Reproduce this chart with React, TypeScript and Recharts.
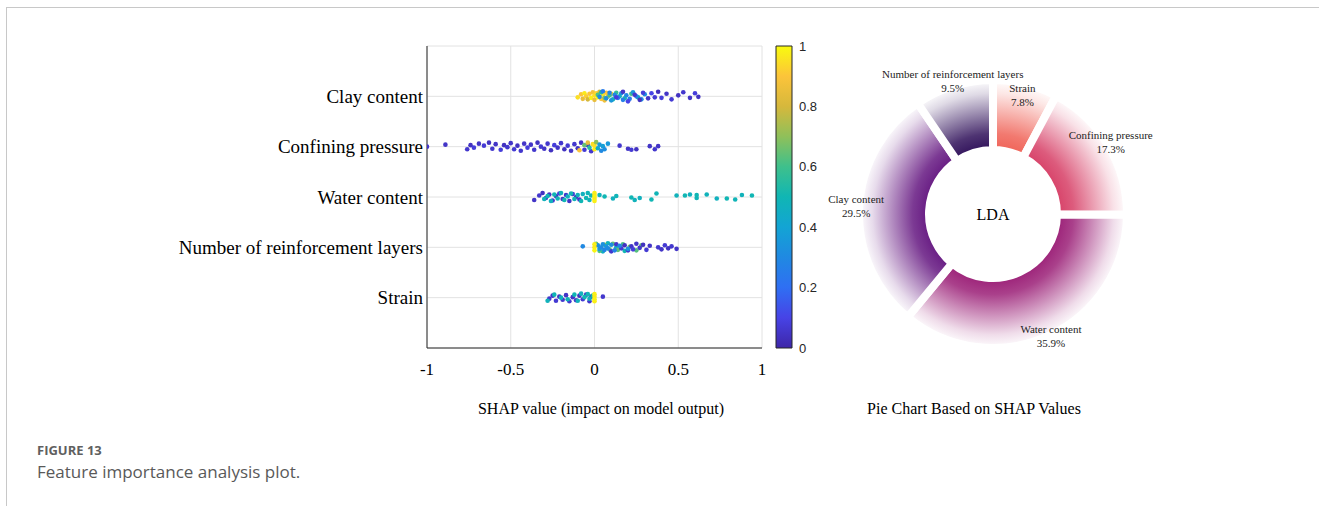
import { Bar, BarChart, CartesianGrid, Cell, Label, Pie, PieChart, Scatter, ScatterChart, XAxis, YAxis } from 'recharts';

const SERIF = '"Liberation Serif", "Times New Roman", serif';
const SANS = '"Liberation Sans", Arial, sans-serif';

// bottom to top: row number = index + 1
const features = ['Strain', 'Number of reinforcement layers', 'Water content', 'Confining pressure', 'Clay content'];
const xTicks = [-1, -0.5, 0, 0.5, 1];
const rowTicks = [1, 2, 3, 4, 5];
const colorTicks = [0, 0.2, 0.4, 0.6, 0.8, 1];

// [shap value, vertical jitter (rows), normalised feature value]
const clayPts = [
  [-0.1, -0.02, 0.95], [-0.08, 0.04, 0.9], [-0.07, -0.05, 0.85], [-0.06, 0.06, 0.97], [-0.05, 0.0, 0.92], [-0.04, -0.06, 0.8],
  [-0.03, 0.05, 0.9], [-0.02, -0.03, 0.98], [-0.01, 0.08, 0.88], [0.0, 0.02, 0.95], [0.0, -0.07, 0.85], [0.01, 0.06, 0.93],
  [0.02, -0.02, 0.99], [0.03, 0.09, 0.82], [0.04, -0.05, 0.9], [0.05, 0.04, 0.96], [0.06, -0.08, 0.87], [0.07, 0.07, 0.9],
  [0.08, 0.0, 0.85], [0.1, 0.05, 0.92],
  [0.02, 0.03, 0.62], [0.04, 0.08, 0.55], [0.06, -0.03, 0.68], [0.09, 0.02, 0.6], [0.11, -0.06, 0.5], [0.13, 0.07, 0.58],
  [0.15, 0.0, 0.48], [0.18, -0.04, 0.52], [0.22, 0.05, 0.6], [0.26, -0.02, 0.5],
  [0.03, -0.01, 0.3], [0.05, 0.1, 0.25], [0.07, -0.04, 0.33], [0.09, 0.07, 0.28], [0.1, -0.08, 0.35], [0.12, 0.03, 0.3],
  [0.14, -0.03, 0.22], [0.16, 0.06, 0.32], [0.17, -0.07, 0.27], [0.19, 0.02, 0.3], [0.21, -0.05, 0.25], [0.23, 0.08, 0.35],
  [0.25, 0.0, 0.28], [0.28, -0.06, 0.3], [0.3, 0.04, 0.32],
  [0.13, -0.02, 0.08], [0.17, 0.09, 0.05], [0.2, -0.1, 0.1], [0.24, 0.03, 0.06], [0.27, -0.07, 0.04], [0.29, 0.07, 0.08],
  [0.32, -0.04, 0.05], [0.34, 0.06, 0.1], [0.36, -0.02, 0.07], [0.38, 0.09, 0.03], [0.4, -0.03, 0.08], [0.43, 0.05, 0.05],
  [0.46, -0.06, 0.07], [0.5, 0.02, 0.04], [0.53, 0.08, 0.06], [0.57, -0.03, 0.05], [0.6, 0.06, 0.08], [0.62, -0.01, 0.04],
];

const confiningPts = [
  [-1.0, 0.0, 0.05], [-0.89, 0.04, 0.05], [-0.76, -0.05, 0.06], [-0.74, 0.03, 0.04], [-0.72, -0.02, 0.08], [-0.69, 0.06, 0.05],
  [-0.66, 0.02, 0.07], [-0.63, 0.08, 0.04], [-0.61, -0.04, 0.06], [-0.59, 0.05, 0.05], [-0.56, -0.06, 0.08], [-0.54, 0.03, 0.04],
  [-0.52, -0.01, 0.06], [-0.5, 0.07, 0.05], [-0.48, -0.05, 0.07], [-0.46, 0.02, 0.04], [-0.44, -0.08, 0.06], [-0.42, 0.06, 0.05],
  [-0.4, -0.02, 0.08], [-0.38, 0.04, 0.05], [-0.36, -0.06, 0.06], [-0.34, 0.08, 0.04], [-0.32, 0.0, 0.07], [-0.3, -0.04, 0.05],
  [-0.28, 0.06, 0.06], [-0.26, -0.07, 0.04], [-0.24, 0.03, 0.08], [-0.22, -0.02, 0.05], [-0.2, 0.07, 0.06], [-0.18, -0.05, 0.04],
  [-0.16, 0.02, 0.07], [-0.14, -0.08, 0.05], [-0.12, 0.05, 0.06], [-0.1, -0.03, 0.04], [-0.08, 0.08, 0.05], [-0.06, -0.06, 0.07],
  [-0.04, 0.03, 0.05], [-0.02, -0.09, 0.06],
  [0.15, 0.02, 0.06], [0.2, -0.04, 0.05], [0.22, -0.06, 0.07], [0.25, -0.05, 0.04], [0.33, 0.01, 0.05], [0.36, -0.05, 0.06], [0.38, 0.01, 0.05],
  [-0.09, -0.07, 0.9], [-0.06, 0.03, 0.65], [-0.04, 0.08, 0.85], [-0.03, -0.02, 0.55], [-0.01, 0.05, 0.95], [0.0, -0.05, 0.98],
  [0.0, 0.02, 0.95], [0.01, 0.09, 0.7], [0.02, -0.03, 0.45], [0.03, 0.04, 0.35], [0.04, -0.08, 0.3], [0.05, 0.01, 0.38],
  [0.06, -0.05, 0.32], [0.08, 0.06, 0.36],
];

const waterPts = [
  [-0.36, -0.06, 0.05], [-0.33, 0.03, 0.06], [-0.31, 0.08, 0.04], [-0.29, -0.02, 0.07], [-0.27, 0.05, 0.05], [-0.25, -0.07, 0.06],
  [-0.23, 0.02, 0.04], [-0.21, 0.07, 0.08], [-0.19, -0.04, 0.05], [-0.17, 0.04, 0.06], [-0.15, -0.08, 0.05], [-0.13, 0.06, 0.07],
  [-0.11, 0.0, 0.04], [-0.09, -0.05, 0.06],
  [-0.3, -0.04, 0.48], [-0.28, 0.02, 0.5], [-0.26, -0.08, 0.47], [-0.24, 0.05, 0.5], [-0.22, -0.03, 0.49], [-0.2, 0.08, 0.48],
  [-0.18, -0.06, 0.5], [-0.16, 0.01, 0.47], [-0.14, 0.07, 0.5], [-0.12, -0.04, 0.49], [-0.1, 0.04, 0.48], [-0.08, -0.08, 0.5],
  [-0.07, 0.06, 0.47], [-0.05, -0.02, 0.5], [-0.04, 0.08, 0.49], [-0.03, -0.06, 0.48], [-0.02, 0.03, 0.5],
  [0.03, 0.04, 0.48], [0.06, 0.01, 0.5], [0.11, -0.03, 0.47], [0.13, 0.02, 0.49], [0.22, -0.01, 0.5], [0.24, -0.06, 0.48],
  [0.27, -0.02, 0.47], [0.34, -0.05, 0.5], [0.37, 0.07, 0.49], [0.49, 0.03, 0.48], [0.54, 0.03, 0.5], [0.57, 0.05, 0.47],
  [0.61, -0.02, 0.49], [0.61, 0.04, 0.5], [0.67, 0.05, 0.48], [0.73, -0.03, 0.47], [0.79, -0.03, 0.5], [0.84, -0.05, 0.49],
  [0.88, 0.04, 0.48], [0.94, 0.03, 0.5],
  [0.0, 0.08, 0.98], [0.0, 0.04, 0.97], [0.0, 0.0, 0.99], [0.0, -0.04, 0.97], [0.0, -0.08, 0.98],
];

const layersPts = [
  [-0.07, 0.02, 0.3],
  [0.05, -0.08, 0.45], [0.08, 0.08, 0.48], [0.13, 0.0, 0.46], [0.18, -0.07, 0.5],
  [0.01, 0.07, 0.65], [0.03, -0.07, 0.62], [0.06, 0.05, 0.66], [0.09, -0.04, 0.63], [0.11, 0.07, 0.65], [0.14, -0.05, 0.64],
  [0.17, 0.06, 0.62], [0.21, 0.01, 0.66], [0.25, -0.06, 0.63], [0.28, 0.04, 0.65],
  [0.1, -0.08, 0.06], [0.13, 0.06, 0.05], [0.16, -0.02, 0.07], [0.18, 0.04, 0.04], [0.2, -0.06, 0.06], [0.22, 0.02, 0.05],
  [0.23, -0.04, 0.08], [0.25, 0.07, 0.05], [0.27, -0.01, 0.06], [0.29, 0.05, 0.04], [0.31, -0.05, 0.07], [0.33, 0.03, 0.05],
  [0.38, 0.0, 0.06], [0.4, -0.04, 0.05], [0.42, 0.04, 0.07], [0.44, -0.02, 0.04], [0.46, 0.02, 0.06], [0.49, -0.03, 0.05],
  [0.02, 0.04, 0.32], [0.03, -0.03, 0.35], [0.04, 0.0, 0.3], [0.05, 0.06, 0.33], [0.06, -0.05, 0.28], [0.07, 0.02, 0.35],
  [0.08, -0.02, 0.3], [0.1, 0.05, 0.32], [0.12, -0.06, 0.27], [0.15, 0.03, 0.3], [0.2, -0.03, 0.33],
  [0.0, 0.06, 0.98], [0.0, 0.0, 0.97], [0.0, -0.06, 0.99],
];

const strainPts = [
  [-0.27, -0.02, 0.06], [-0.25, 0.04, 0.05], [-0.23, -0.06, 0.07], [-0.21, 0.02, 0.04], [-0.19, -0.04, 0.06], [-0.17, 0.05, 0.05],
  [-0.15, -0.07, 0.07], [-0.13, 0.01, 0.05], [-0.11, -0.05, 0.06], [-0.09, 0.04, 0.04], [-0.07, -0.03, 0.07], [-0.05, 0.06, 0.05],
  [-0.03, -0.07, 0.06], [-0.02, 0.02, 0.05], [0.05, 0.02, 0.06],
  [-0.28, -0.06, 0.48], [-0.24, 0.06, 0.5], [-0.2, 0.0, 0.47], [-0.16, -0.03, 0.49], [-0.12, 0.06, 0.5], [-0.1, -0.06, 0.48],
  [-0.08, 0.08, 0.47], [-0.06, 0.01, 0.5], [-0.04, 0.07, 0.49], [-0.03, -0.02, 0.48], [-0.01, 0.04, 0.5],
  [0.0, 0.07, 0.98], [0.0, 0.02, 0.97], [0.0, -0.03, 0.99], [0.0, -0.07, 0.98],
];

const rows = [strainPts, layersPts, waterPts, confiningPts, clayPts];

// pie, clockwise from 12 o'clock
const pieNames = ['Strain', 'Confining pressure', 'Water content', 'Clay content', 'Number of reinforcement layers'];
const pieValues = [7.8, 17.3, 35.9, 29.5, 9.5];
const pieColors = ['#f0675c', '#d8456b', '#9e267b', '#6a1f85', '#36185f'];

const parulaStops: [number, string][] = [
  [0, '#3e26a8'], [0.1, '#4743e6'], [0.2, '#2f6ff3'], [0.3, '#2089e2'], [0.4, '#13a4d4'], [0.5, '#10b6b4'],
  [0.6, '#3ec08c'], [0.7, '#8fc05a'], [0.8, '#d6b83c'], [0.9, '#fcc43a'], [1, '#f9fb0e'],
];

const hex = (c: string) => [1, 3, 5].map((i) => parseInt(c.slice(i, i + 2), 16));

const parula = (v: number) => {
  const t = Math.max(0, Math.min(1, v));
  let i = 0;
  while (i < parulaStops.length - 2 && t > parulaStops[i + 1][0]) i++;
  const [t0, c0] = parulaStops[i];
  const [t1, c1] = parulaStops[i + 1];
  const r = (t - t0) / (t1 - t0);
  const a = hex(c0);
  const b = hex(c1);
  return `rgb(${a.map((x, k) => Math.round(x + (b[k] - x) * r)).join(',')})`;
};

const dot = (p: any) => <circle cx={p.cx} cy={p.cy} r={2.3} fill={parula(p.payload.v)} />;

const RADIAN = Math.PI / 180;
// the small top slice's label sits closer in so it clears its neighbour
const labelPull: Record<string, number> = { Strain: 16 };

const pieLabel = (p: any) => {
  const r = p.outerRadius + 3 - (labelPull[p.name] ?? 0);
  const x = p.cx + r * Math.cos(-p.midAngle * RADIAN);
  const y = p.cy + r * Math.sin(-p.midAngle * RADIAN);
  return (
    <text x={x} y={y} textAnchor="middle" fontSize={11} fontFamily={SERIF} fill="#222">
      <tspan x={x} dy={-5}>{p.name}</tspan>
      <tspan x={x} dy={14}>{`${p.value}%`}</tspan>
    </text>
  );
};

export default function App() {
  const rowData = rows.map((pts, i) => pts.map(([x, j, v]) => ({ x, y: i + 1 + j, v })));
  const pieData = pieNames.map((name, i) => ({ name, value: pieValues[i] }));

  return (
    <div style={{ position: 'absolute', left: 0, top: 0, width: 1319, height: 506, background: '#fff', overflow: 'hidden' }}>
      <div style={{ position: 'absolute', left: 6, top: 7, right: 0, height: 0, borderTop: '1px solid #c8c8c8' }} />
      <div style={{ position: 'absolute', left: 6, top: 7, bottom: 0, width: 0, borderLeft: '1px solid #c8c8c8' }} />

      <div style={{ position: 'absolute', left: 0, top: 0 }}>
        <ScatterChart width={780} height={430} margin={{ top: 46, right: 18, bottom: 50, left: 0 }}>
          <CartesianGrid stroke="#e2e2e2" />
          <XAxis
            type="number" dataKey="x" domain={[-1, 1]} ticks={xTicks} height={32} allowDataOverflow
            tickLine={false} tickMargin={9} axisLine={{ stroke: '#262626' }}
            tick={{ fontSize: 17, fill: '#000', fontFamily: SERIF }}
          />
          <YAxis
            type="number" dataKey="y" domain={[0, 6]} ticks={rowTicks} width={427}
            tickFormatter={(v: number) => features[v - 1] ?? ''}
            tickLine={false} tickSize={0} tickMargin={4} axisLine={{ stroke: '#262626' }}
            tick={{ fontSize: 19, fill: '#000', fontFamily: SERIF }}
          />
          <XAxis xAxisId="top" orientation="top" type="number" domain={[-1, 1]} height={0} tick={false} tickLine={false} axisLine={{ stroke: '#262626' }} />
          <YAxis yAxisId="right" orientation="right" type="number" domain={[0, 6]} width={0} tick={false} tickLine={false} axisLine={{ stroke: '#262626' }} />
          {rowData.map((d, i) => (
            <Scatter key={features[i]} data={d} shape={dot} isAnimationActive={false} />
          ))}
        </ScatterChart>
      </div>

      <div style={{ position: 'absolute', left: 770, top: 0 }}>
        <BarChart width={86} height={430} margin={{ top: 46, right: 0, bottom: 82, left: 6 }} data={[{ k: 'c', v: 1 }]} barCategoryGap={0}>
          <defs>
            <linearGradient id="parulaGrad" x1="0" y1="1" x2="0" y2="0">
              {parulaStops.map(([o, c]) => (
                <stop key={o} offset={o} stopColor={c} />
              ))}
            </linearGradient>
          </defs>
          <XAxis dataKey="k" hide />
          <YAxis
            orientation="right" type="number" domain={[0, 1]} ticks={colorTicks} width={64}
            tickLine={false} axisLine={false} tickSize={0} tickMargin={7}
            tick={{ fontSize: 13, fill: '#262626', fontFamily: SANS, textAnchor: 'start' }}
          />
          <Bar dataKey="v" fill="url(#parulaGrad)" stroke="#262626" strokeWidth={1} isAnimationActive={false} />
        </BarChart>
      </div>

      <div style={{ position: 'absolute', left: 813, top: 34 }}>
        <PieChart width={360} height={360} margin={{ top: 0, right: 0, bottom: 0, left: 0 }}>
          <defs>
            {pieColors.map((c, i) => (
              <radialGradient key={c} id={`fade${i}`} gradientUnits="userSpaceOnUse" cx={180} cy={180} r={134}>
                <stop offset={0.5} stopColor={c} stopOpacity={1} />
                <stop offset={0.6} stopColor={c} stopOpacity={0.88} />
                <stop offset={0.75} stopColor={c} stopOpacity={0.52} />
                <stop offset={0.9} stopColor={c} stopOpacity={0.16} />
                <stop offset={1} stopColor={c} stopOpacity={0} />
              </radialGradient>
            ))}
          </defs>
          <Pie
            data={pieData} dataKey="value" nameKey="name" cx={180} cy={180}
            innerRadius={64} outerRadius={134} startAngle={90} endAngle={-270}
            stroke="#fff" strokeWidth={8} label={pieLabel} labelLine={false} isAnimationActive={false}
          >
            {pieData.map((d, i) => (
              <Cell key={d.name} fill={`url(#fade${i})`} />
            ))}
            <Label value="LDA" position="center" fill="#000" fontSize={16} fontFamily={SERIF} />
          </Pie>
        </PieChart>
      </div>

      <div style={{ position: 'absolute', left: 401, width: 400, top: 399, textAlign: 'center', fontFamily: SERIF, fontSize: 16, lineHeight: '20px', color: '#000' }}>
        SHAP value (impact on model output)
      </div>
      <div style={{ position: 'absolute', left: 774, width: 400, top: 399, textAlign: 'center', fontFamily: SERIF, fontSize: 16, lineHeight: '20px', color: '#000' }}>
        Pie Chart Based on SHAP Values
      </div>

      <div style={{ position: 'absolute', left: 37, top: 441, fontFamily: '"Open Sans", sans-serif', fontSize: 13, fontWeight: 700, color: '#5f5f5f', lineHeight: '18px' }}>
        FIGURE 13
      </div>
      <div style={{ position: 'absolute', left: 37, top: 461, fontFamily: '"Open Sans", sans-serif', fontSize: 17, color: '#595959', lineHeight: '22px' }}>
        Feature importance analysis plot.
      </div>
    </div>
  );
}
